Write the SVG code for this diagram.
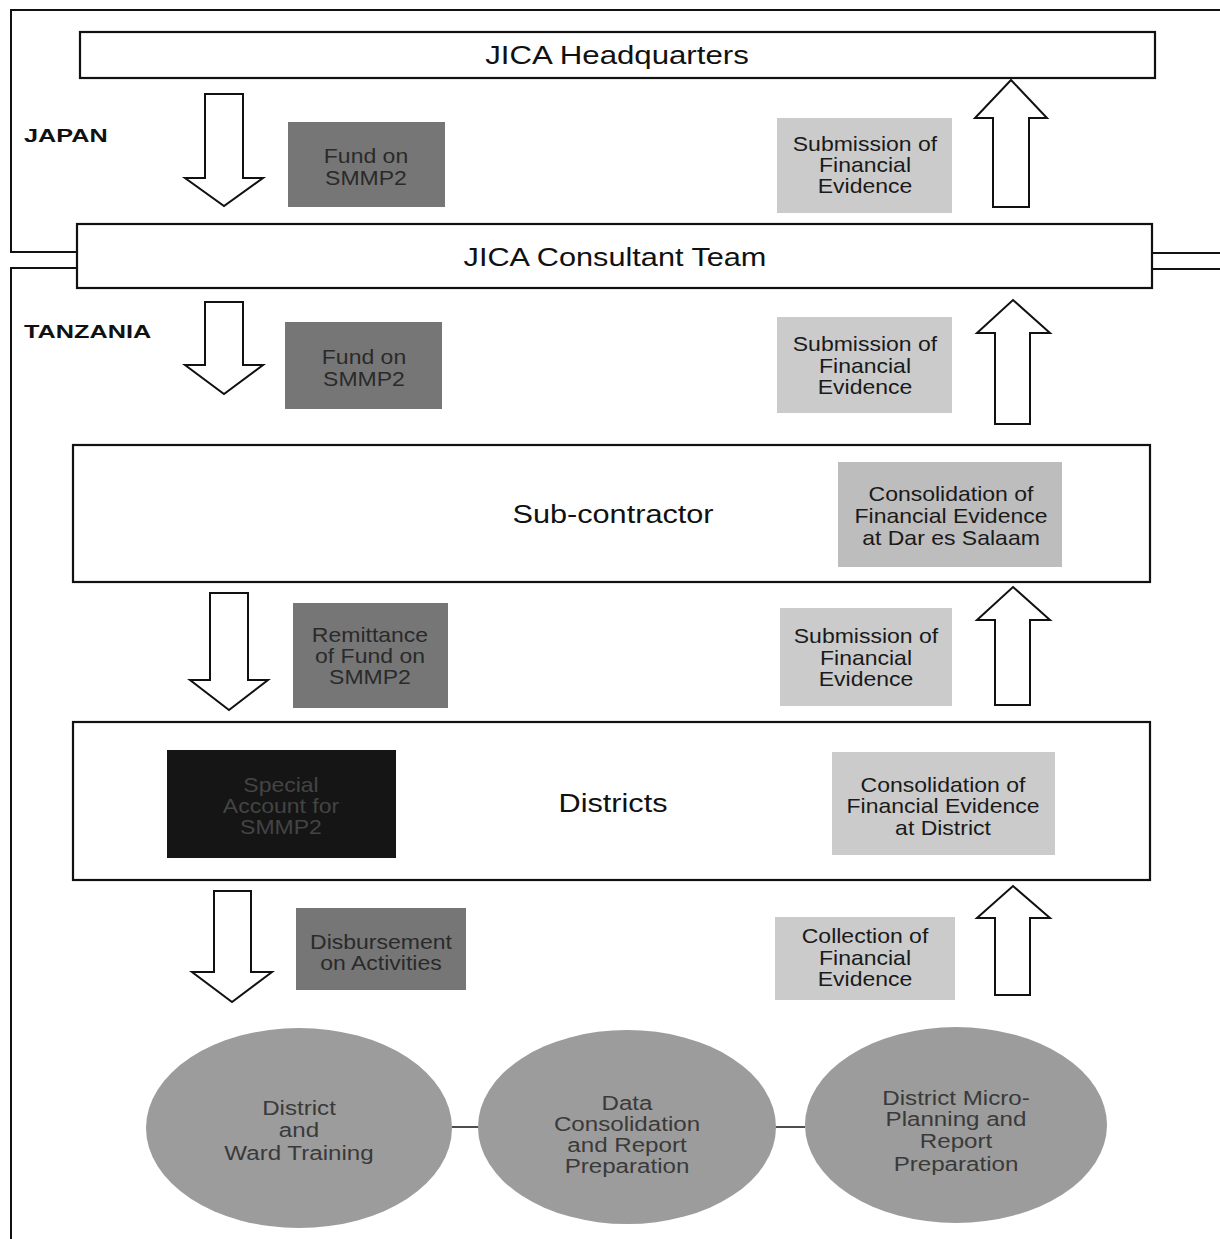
<svg xmlns="http://www.w3.org/2000/svg" width="1220" height="1239" viewBox="0 0 1220 1239">
<style>
.frame{fill:none;stroke:#111;stroke-width:2}
.box{fill:#fff;stroke:#111;stroke-width:2.2}
.arrow{fill:#fff;stroke:#111;stroke-width:2;stroke-linejoin:miter}
.dark{fill:#767676}
.light{fill:#cbcbcb}
.mid{fill:#bdbdbd}
.black{fill:#151515}
.ell{fill:#9c9c9c}
.link{stroke:#222;stroke-width:1.6}
.title{font-family:"Liberation Sans",Arial,sans-serif;font-size:26px;fill:#111;text-anchor:middle}
.lbl{font-family:"Liberation Sans",Arial,sans-serif;font-size:19px;font-weight:bold;fill:#111}
.t{font-family:"Liberation Sans",Arial,sans-serif;font-size:20px;fill:#1a1a1a;text-anchor:middle}
.td{font-family:"Liberation Sans",Arial,sans-serif;font-size:20px;fill:#2a2a2a;text-anchor:middle}
.tb{font-family:"Liberation Sans",Arial,sans-serif;font-size:20px;fill:#444;text-anchor:middle}
.te{font-family:"Liberation Sans",Arial,sans-serif;font-size:21px;fill:#3a3a3a;text-anchor:middle}
</style>
<rect x="0" y="0" width="1220" height="1239" fill="#fff"/>
<g id="regions">
<path class="frame" d="M1220,10 H11 V252 H77"/>
<path class="frame" d="M1152,253 H1220"/>
<path class="frame" d="M77,268 H11 V1239"/>
<path class="frame" d="M1152,269 H1220"/>
<text class="lbl" transform="translate(24,142) scale(1.33,1)">JAPAN</text>
<text class="lbl" transform="translate(24,338) scale(1.33,1)">TANZANIA</text>
</g>
<g id="connectors">
<path class="arrow" d="M205,94 H243 V178 H263 L224,206 L185,178 H205 Z"/>
<path class="arrow" d="M993,207 V118 H975 L1011,80 L1047,118 H1029 V207 Z"/>
<path class="arrow" d="M205,302 H243 V365 H263 L224,394 L185,365 H205 Z"/>
<path class="arrow" d="M995,424 V333 H977 L1013,300 L1050,333 H1030 V424 Z"/>
<path class="arrow" d="M210,593 H248 V680 H268 L229,710 L190,680 H210 Z"/>
<path class="arrow" d="M995,705 V620 H977 L1013,587 L1050,620 H1030 V705 Z"/>
<path class="arrow" d="M214,891 H251 V972 H272 L232,1002 L192,972 H214 Z"/>
<path class="arrow" d="M995,995 V918 H977 L1013,886 L1050,918 H1030 V995 Z"/>
<line class="link" x1="452" y1="1127" x2="478" y2="1127"/>
<line class="link" x1="776" y1="1127" x2="805" y2="1127"/>
</g>
<g id="jica-hq">
<rect class="box" x="80" y="32" width="1075" height="46"/>
<text class="title" transform="translate(617,64) scale(1.2,1)">JICA Headquarters</text>
</g>
<g id="jica-consultant">
<rect class="box" x="77" y="224" width="1075" height="64"/>
<text class="title" transform="translate(615,266) scale(1.18,1)">JICA Consultant Team</text>
</g>
<g id="fund1">
<rect class="dark" x="288" y="122" width="157" height="85"/>
<text class="td" transform="translate(366,0) scale(1.15,1)"><tspan x="0" y="163">Fund on</tspan><tspan x="0" y="185">SMMP2</tspan></text>
</g>
<g id="submission1">
<rect class="light" x="777" y="118" width="175" height="95"/>
<text class="t" transform="translate(865,0) scale(1.15,1)"><tspan x="0" y="151">Submission of</tspan><tspan x="0" y="172">Financial</tspan><tspan x="0" y="193">Evidence</tspan></text>
</g>
<g id="fund2">
<rect class="dark" x="285" y="322" width="157" height="87"/>
<text class="td" transform="translate(364,0) scale(1.15,1)"><tspan x="0" y="364">Fund on</tspan><tspan x="0" y="386">SMMP2</tspan></text>
</g>
<g id="submission2">
<rect class="light" x="777" y="317" width="175" height="96"/>
<text class="t" transform="translate(865,0) scale(1.15,1)"><tspan x="0" y="351">Submission of</tspan><tspan x="0" y="373">Financial</tspan><tspan x="0" y="394">Evidence</tspan></text>
</g>
<g id="sub-contractor">
<rect class="box" x="73" y="445" width="1077" height="137"/>
<text class="title" transform="translate(613,523) scale(1.18,1)">Sub-contractor</text>
<rect class="mid" x="838" y="462" width="224" height="105"/>
<text class="t" transform="translate(951,0) scale(1.15,1)"><tspan x="0" y="501">Consolidation of</tspan><tspan x="0" y="523">Financial Evidence</tspan><tspan x="0" y="545">at Dar es Salaam</tspan></text>
</g>
<g id="remittance">
<rect class="dark" x="293" y="603" width="155" height="105"/>
<text class="td" transform="translate(370,0) scale(1.15,1)"><tspan x="0" y="642">Remittance</tspan><tspan x="0" y="663">of Fund on</tspan><tspan x="0" y="684">SMMP2</tspan></text>
</g>
<g id="submission3">
<rect class="light" x="780" y="608" width="172" height="98"/>
<text class="t" transform="translate(866,0) scale(1.15,1)"><tspan x="0" y="643">Submission of</tspan><tspan x="0" y="665">Financial</tspan><tspan x="0" y="686">Evidence</tspan></text>
</g>
<g id="districts">
<rect class="box" x="73" y="722" width="1077" height="158"/>
<text class="title" transform="translate(613,812) scale(1.18,1)">Districts</text>
<rect class="black" x="167" y="750" width="229" height="108"/>
<text class="tb" transform="translate(281,0) scale(1.15,1)"><tspan x="0" y="792">Special</tspan><tspan x="0" y="813">Account for</tspan><tspan x="0" y="834">SMMP2</tspan></text>
<rect class="light" x="832" y="752" width="223" height="103"/>
<text class="t" transform="translate(943,0) scale(1.15,1)"><tspan x="0" y="792">Consolidation of</tspan><tspan x="0" y="813">Financial Evidence</tspan><tspan x="0" y="835">at District</tspan></text>
</g>
<g id="disbursement">
<rect class="dark" x="296" y="908" width="170" height="82"/>
<text class="td" transform="translate(381,0) scale(1.15,1)"><tspan x="0" y="949">Disbursement</tspan><tspan x="0" y="970">on Activities</tspan></text>
</g>
<g id="collection">
<rect class="light" x="775" y="917" width="180" height="83"/>
<text class="t" transform="translate(865,0) scale(1.15,1)"><tspan x="0" y="943">Collection of</tspan><tspan x="0" y="965">Financial</tspan><tspan x="0" y="986">Evidence</tspan></text>
</g>
<g id="training">
<ellipse class="ell" cx="299" cy="1128" rx="153" ry="100"/>
<text class="te" transform="translate(299,0) scale(1.15,1)"><tspan x="0" y="1115">District</tspan><tspan x="0" y="1137">and</tspan><tspan x="0" y="1160">Ward Training</tspan></text>
</g>
<g id="data-consolidation">
<ellipse class="ell" cx="627" cy="1127" rx="149" ry="97"/>
<text class="te" transform="translate(627,0) scale(1.15,1)"><tspan x="0" y="1110">Data</tspan><tspan x="0" y="1131">Consolidation</tspan><tspan x="0" y="1152">and Report</tspan><tspan x="0" y="1173">Preparation</tspan></text>
</g>
<g id="micro-planning">
<ellipse class="ell" cx="956" cy="1125" rx="151" ry="98"/>
<text class="te" transform="translate(956,0) scale(1.15,1)"><tspan x="0" y="1105">District Micro-</tspan><tspan x="0" y="1126">Planning and</tspan><tspan x="0" y="1148">Report</tspan><tspan x="0" y="1171">Preparation</tspan></text>
</g>
</svg>
